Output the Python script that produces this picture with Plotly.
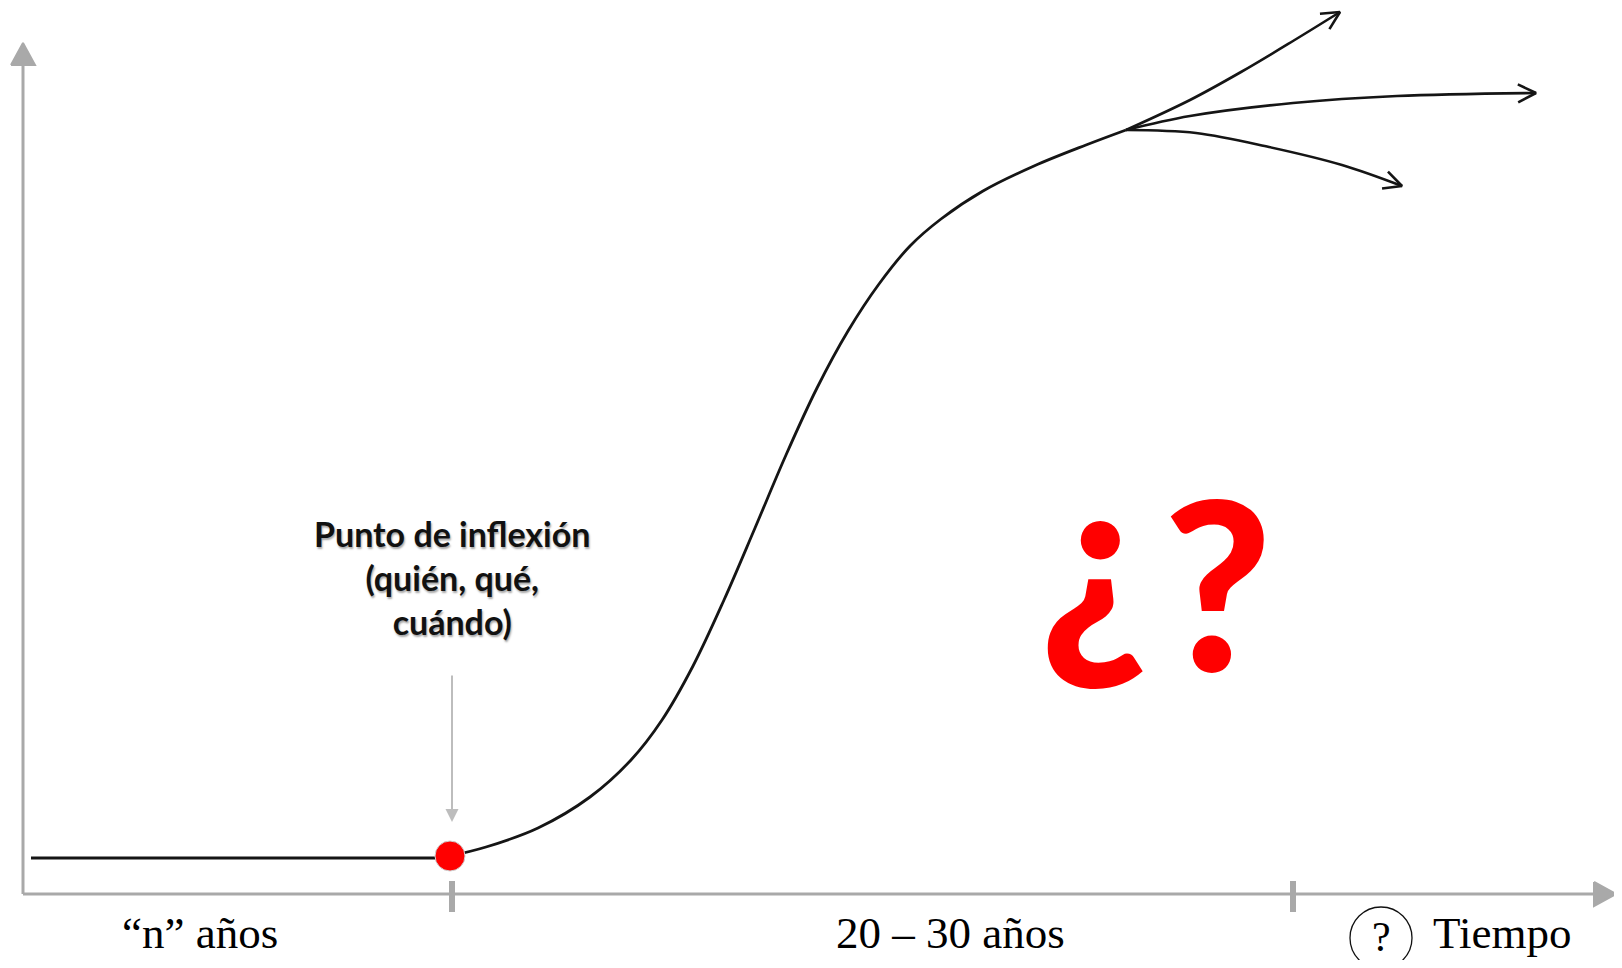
import numpy as np
import plotly.graph_objects as go

# page is 1622x968; the html body has an 8px margin, so the figure is 16px smaller
PAGE_W, PAGE_H, BODY_MARGIN = 1622, 968, 8
W, H = PAGE_W - 2 * BODY_MARGIN, PAGE_H - 2 * BODY_MARGIN

# ---- data (time on x, level on y; schematic units) ----
flat_x = [31, 450]
flat_y = [110, 110]

s_x = [450, 486, 538, 590, 631, 662, 693, 724, 755, 786, 817, 848, 879, 910, 941, 983, 1034, 1086, 1126]
s_y = [112, 121, 140, 171, 208, 248, 302, 368, 440, 513, 580, 637, 684, 722, 749, 777, 802, 823, 838]

up_x = [1126, 1190, 1241, 1293, 1340]
up_y = [838, 868, 896, 927, 956]
mid_x = [1126, 1190, 1293, 1397, 1536]
mid_y = [838, 852, 865, 872, 875]
down_x = [1126, 1196, 1269, 1342, 1402]
down_y = [838, 835, 821, 803, 782]

inflection_x = [450]
inflection_y = [112]

tick_x = [452, 1293]
origin_x, origin_y = 23, 74
x_axis_end = 1616
y_axis_end = 925

labels = ["“n” años", "20 – 30 años", "Tiempo"]
label_x = [200, 950, 1502]
label_y = [35, 35, 35]

q_x, q_y = 1381, 30

pointer_x = 452
pointer_from, pointer_to = 294, 146

AXIS_GRAY = "#a9a9a9"


def head_points(tip, prev, length, half_w):
    tip = np.asarray(tip, float)
    prev = np.asarray(prev, float)
    d = tip - prev
    d /= np.hypot(*d)
    n = np.array([-d[1], d[0]])
    base = tip - d * length
    return base + n * half_w, base - n * half_w


fig = go.Figure()

# axes
fig.add_trace(go.Scatter(x=[origin_x, origin_x], y=[y_axis_end - 20, origin_y],
                         mode="lines", line=dict(color=AXIS_GRAY, width=3), hoverinfo="skip"))
fig.add_trace(go.Scatter(x=[origin_x, x_axis_end - 20], y=[origin_y, origin_y],
                         mode="lines", line=dict(color=AXIS_GRAY, width=3), hoverinfo="skip"))
for tip, prev in [((origin_x, y_axis_end), (origin_x, origin_y)),
                  ((x_axis_end, origin_y), (origin_x, origin_y))]:
    p1, p2 = head_points(tip, prev, 22, 12)
    fig.add_trace(go.Scatter(x=[p1[0], tip[0], p2[0], p1[0]], y=[p1[1], tip[1], p2[1], p1[1]],
                             mode="lines", fill="toself", fillcolor=AXIS_GRAY,
                             line=dict(color=AXIS_GRAY, width=2), hoverinfo="skip"))

# ticks
tx, ty = [], []
for t in tick_x:
    tx += [t, t, None]
    ty += [origin_y + 13, origin_y - 18, None]
fig.add_trace(go.Scatter(x=tx, y=ty, mode="lines", line=dict(color=AXIS_GRAY, width=6),
                         hoverinfo="skip"))

# curve
LINE = dict(color="#151515", width=2.8)
fig.add_trace(go.Scatter(x=flat_x, y=flat_y, mode="lines", line=LINE, hoverinfo="skip"))
fig.add_trace(go.Scatter(x=s_x, y=s_y, mode="lines", line=dict(**LINE, shape="spline", smoothing=1.0),
                         hoverinfo="skip"))

for bx, by in [(up_x, up_y), (mid_x, mid_y), (down_x, down_y)]:
    fig.add_trace(go.Scatter(x=bx, y=by, mode="lines",
                             line=dict(color="#151515", width=2.6, shape="spline", smoothing=1.0),
                             hoverinfo="skip"))
    tip = (bx[-1], by[-1])
    prev = (bx[-2], by[-2])
    p1, p2 = head_points(tip, prev, 18, 9)
    fig.add_trace(go.Scatter(x=[p1[0], tip[0], p2[0]], y=[p1[1], tip[1], p2[1]], mode="lines",
                             line=dict(color="#151515", width=2.6), hoverinfo="skip"))

# inflection point
fig.add_trace(go.Scatter(x=inflection_x, y=inflection_y, mode="markers",
                         marker=dict(size=30, color="#ff0000", line=dict(color="#d0d0d0", width=1)),
                         hoverinfo="skip"))

# circled question mark
fig.add_trace(go.Scatter(x=[q_x], y=[q_y], mode="markers", cliponaxis=False,
                         marker=dict(symbol="circle-open", size=62, color="#111",
                                     line=dict(color="#111", width=1.3)),
                         hoverinfo="skip"))

annotations = []
for t, x, y in zip(labels, label_x, label_y):
    annotations.append(dict(x=x, y=y, text=t, showarrow=False, xanchor="center", yanchor="middle",
                            font=dict(family="Liberation Serif", size=45, color="#000")))
annotations.append(dict(x=q_x, y=q_y + 1, text="?", showarrow=False, xanchor="center", yanchor="middle",
                        font=dict(family="Liberation Serif", size=42, color="#000")))

# pointer arrow
annotations.append(dict(x=pointer_x, y=pointer_to, ax=pointer_x, ay=pointer_from, axref="x", ayref="y",
                        text="", showarrow=True, arrowhead=2, arrowsize=1.3, arrowwidth=2,
                        arrowcolor="#bdbdbd"))

annotations.append(dict(x=452, y=391, text="Punto de inflexión<br>(quién, qué,<br>cuándo)",
                        showarrow=False, xanchor="center", yanchor="middle", align="center",
                        font=dict(family="Lato", size=34, weight=700, color="#111",
                                  shadow="1px 2px 2px rgba(0,0,0,0.35)")))

annotations.append(dict(x=1094, y=414, text="¿", showarrow=False, xanchor="center", yanchor="middle",
                        font=dict(family="Lato", size=240, weight=900, color="#ff0000")))
annotations.append(dict(x=1217, y=388, text="?", showarrow=False, xanchor="center", yanchor="middle",
                        font=dict(family="Lato", size=235, weight=900, color="#ff0000")))

fig.update_layout(
    width=W, height=H,
    margin=dict(l=0, r=0, t=0, b=0),
    paper_bgcolor="white", plot_bgcolor="white",
    showlegend=False,
    xaxis=dict(range=[BODY_MARGIN, BODY_MARGIN + W], visible=False, fixedrange=True),
    yaxis=dict(range=[BODY_MARGIN, BODY_MARGIN + H], visible=False, fixedrange=True),
    annotations=annotations,
)

fig.write_html("out.html")
